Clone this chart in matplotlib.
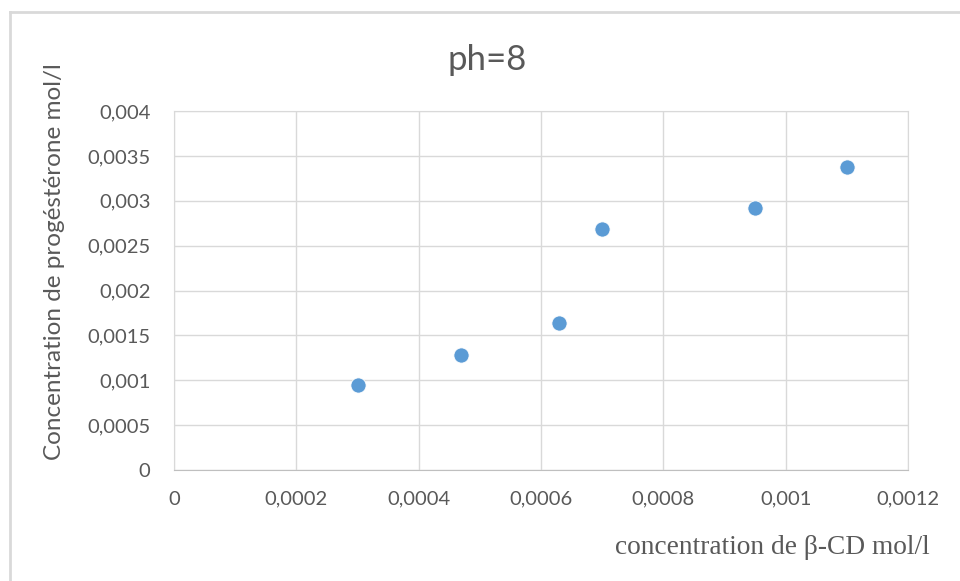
import matplotlib.pyplot as plt
from matplotlib.lines import Line2D
from matplotlib.ticker import FuncFormatter

# values
beta_cd = [0.0003, 0.00047, 0.00063, 0.0007, 0.00095, 0.0011]
progesterone = [0.00095, 0.00128, 0.00164, 0.00269, 0.00292, 0.00338]
x_ticks = [0, 0.0002, 0.0004, 0.0006, 0.0008, 0.001, 0.0012]
y_ticks = [0, 0.0005, 0.001, 0.0015, 0.002, 0.0025, 0.003, 0.0035, 0.004]

W, H = 960, 581
TEXT = "#595959"
GRID = "#d9d9d9"

plt.rcParams["font.family"] = ["Lato", "DejaVu Sans"]

fig = plt.figure(figsize=(W / 100, H / 100), dpi=100)
ax = fig.add_axes([174 / W, 1 - 470 / H, (908 - 174) / W, (470 - 111) / H])


def comma(v, _pos):
    s = f"{v:.4f}".rstrip("0").rstrip(".")
    return s.replace(".", ",") if s else "0"


ax.scatter(beta_cd, progesterone, s=120, color="#5b9bd5",
           edgecolors="white", linewidths=0.6, zorder=3)

ax.set_xlim(0, 0.0012)
ax.set_ylim(0, 0.004)
ax.set_xticks(x_ticks)
ax.set_yticks(y_ticks)
ax.xaxis.set_major_formatter(FuncFormatter(comma))
ax.yaxis.set_major_formatter(FuncFormatter(comma))
ax.tick_params(length=0, colors=TEXT, labelsize=14.5)
ax.tick_params(axis="x", pad=15)
ax.tick_params(axis="y", pad=17)
ax.grid(True, color=GRID, linewidth=1)
ax.set_axisbelow(True)
for side in ("left", "right", "top"):
    ax.spines[side].set_color(GRID)
ax.spines["bottom"].set_color("#bfbfbf")

fig.text(487 / W, 1 - 60 / H, "ph=8", ha="center", va="center",
         fontsize=25, color=TEXT)
fig.text(55 / W, 1 - 262 / H, "Concentration de progéstérone mol/l",
         rotation=90, ha="center", va="center", fontsize=17.5, color=TEXT)
fig.text(930 / W, 1 - 548 / H, "concentration de β-CD mol/l",
         ha="right", va="center", fontsize=19.7, color=TEXT,
         family=["Liberation Serif", "DejaVu Serif"])

# chart border (left and top edges visible)
fig.add_artist(Line2D([10 / W, 10 / W], [0, 1 - 12 / H], transform=fig.transFigure,
                      color=GRID, linewidth=2))
fig.add_artist(Line2D([10 / W, 1], [1 - 12 / H, 1 - 12 / H], transform=fig.transFigure,
                      color=GRID, linewidth=2))

fig.savefig("out.png", dpi=100)
